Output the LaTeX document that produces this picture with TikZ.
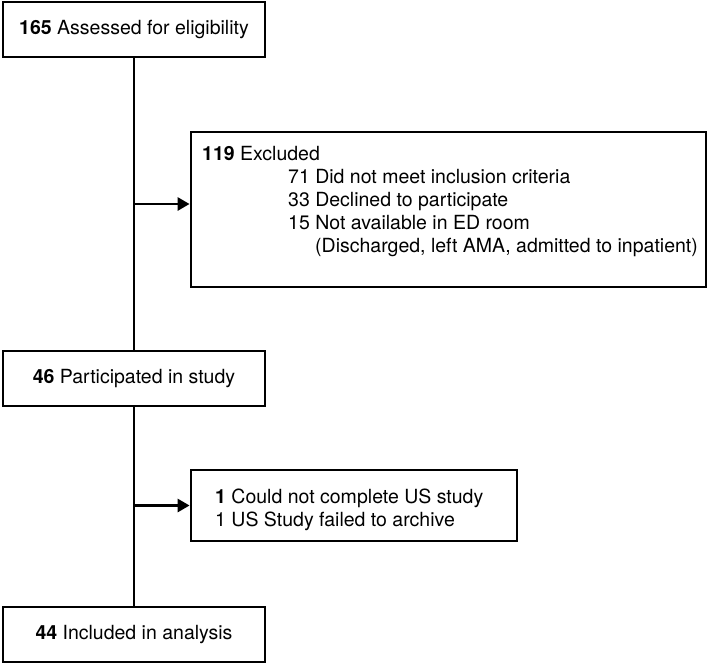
\documentclass[tikz,border=0pt]{standalone}
\usepackage{fontspec}
\setmainfont{TeX Gyre Heros}
\usetikzlibrary{arrows.meta}
\begin{document}
\begin{tikzpicture}[x=1pt,y=-1pt,
  box/.style={draw=black,line width=2.8pt,rectangle,inner sep=0pt,font=\fontsize{19.5}{23}\selectfont},
  txt/.style={anchor=base west,inner sep=0pt,font=\fontsize{19.5}{23}\selectfont},
  conn/.style={draw=black,line width=2.8pt},
  arr/.style={conn,-{Triangle[length=12pt,width=13pt]}}]
\useasboundingbox (0,0) rectangle (709,664);
\node[box,minimum width=262pt,minimum height=55pt] (b1) at (134,29.5) {\textbf{165} Assessed for eligibility};
\node[box,minimum width=262pt,minimum height=55pt] (b3) at (134,378.5) {\textbf{46} Participated in study};
\node[box,minimum width=262pt,minimum height=55pt] (b5) at (134,634.5) {\textbf{44} Included in analysis};
\node[box,minimum width=515pt,minimum height=155pt] (b2) at (448.5,209.5) {};
\node[box,minimum width=326pt,minimum height=71pt] (b4) at (354,505.5) {};
\node[txt] (t1) at (202,160) {\textbf{119} Excluded};
\node[txt] (t2) at (288,183) {71 Did not meet inclusion criteria};
\node[txt] (t3) at (288,206) {33 Declined to participate};
\node[txt] (t4) at (288,229) {15 Not available in ED room};
\node[txt] (t5) at (315,252) {(Discharged, left AMA, admitted to inpatient)};
\node[txt] (u1) at (215,503.5) {\textbf{1} Could not complete US study};
\node[txt] (u2) at (215,526) {1 US Study failed to archive};
\draw[conn] (b1.south) -- (b3.north);
\draw[conn] (b3.south) -- (b5.north);
\coordinate (j1) at (b1.south |- 0,204);
\coordinate (j2) at (b3.south |- b4.west);
\draw[arr] (j1) -- (j1 -| b2.west);
\draw[arr] (j2) -- (b4.west);
\end{tikzpicture}
\end{document}
